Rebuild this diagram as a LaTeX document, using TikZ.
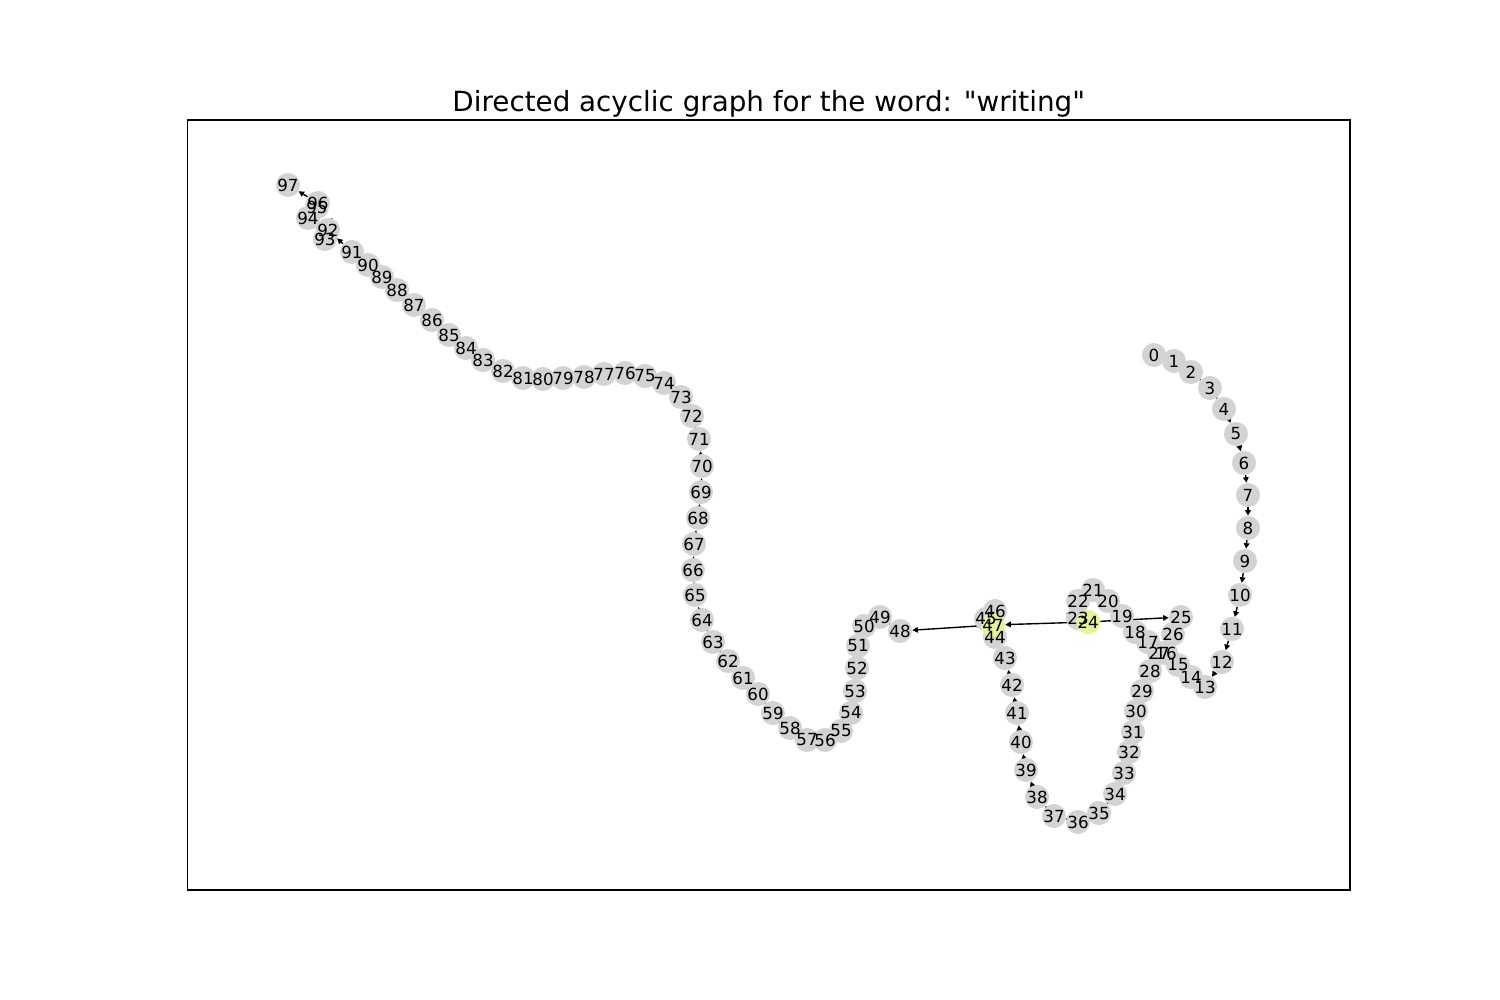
\documentclass[tikz,border=0pt]{standalone}
\usepackage{fontspec}
\setmainfont{DejaVu Sans}[Ligatures=TeXOff]
\usetikzlibrary{arrows.meta}
\pgfdeclarelayer{bg}
\pgfsetlayers{bg,main}
\definecolor{ngray}{RGB}{211,211,211}
\definecolor{nhl}{RGB}{228,243,150}
\begin{document}
\begin{tikzpicture}[x=0.72pt,y=-0.72pt,
  gnode/.style={circle,minimum size=17.32pt,inner sep=0pt,draw=none},
  lbl/.style={font=\fontsize{12}{14}\selectfont,inner sep=0pt},
  conn/.style={-{Triangle[length=4pt,width=4pt]},line width=1pt,black}]
\useasboundingbox (0,0) rectangle (1500,1000);
\draw[line width=0.8pt] (187.5,120) rectangle (1350,890);
\node[font=\fontsize{20}{24}\selectfont,anchor=base,inner sep=0pt] (title) at (768.75,111.7) {Directed acyclic graph for the word: "writing"};
\foreach \n/\x/\y/\c in {
0/1154/355/ngray,1/1174/361/ngray,2/1191/372/ngray,3/1210/388/ngray,4/1224/409/ngray,
5/1236/434/ngray,6/1244/463/ngray,7/1248/495/ngray,8/1248/528/ngray,9/1245/561/ngray,
10/1240/595/ngray,11/1232/629/ngray,12/1222/662/ngray,13/1205/687/ngray,14/1191/677/ngray,
15/1178/665/ngray,16/1166/653/ngray,17/1148/642/ngray,18/1135/632/ngray,19/1122/616/ngray,
20/1108/601/ngray,21/1093/590/ngray,22/1078/601/ngray,23/1078/618/ngray,24/1088/622/nhl,
25/1181/617/ngray,26/1173/634/ngray,27/1159/653/ngray,28/1150/671/ngray,29/1142/691/ngray,
30/1136/711/ngray,31/1133/732/ngray,32/1129/752/ngray,33/1124/773/ngray,34/1115/794/ngray,
35/1099/813/ngray,36/1078/822/ngray,37/1054/816/ngray,38/1037/797/ngray,39/1026/770/ngray,
40/1021/742/ngray,41/1017/713/ngray,42/1012/685/ngray,43/1005/658/ngray,44/995/637/ngray,
45/986/619/ngray,46/995/611/ngray,47/993/625/nhl,48/900/631/ngray,49/880/617/ngray,
50/864/626/ngray,51/858/646/ngray,52/857/668/ngray,53/855/691/ngray,54/851/713/ngray,
55/841/731/ngray,56/825/740/ngray,57/807/740/ngray,58/790/728/ngray,59/773/713/ngray,
60/758/694/ngray,61/743/678/ngray,62/728/661/ngray,63/713/642/ngray,64/702/620/ngray,
65/695/595/ngray,66/693/570/ngray,67/694/544/ngray,68/698/518/ngray,69/701/492/ngray,
70/702/466/ngray,71/699/439/ngray,72/692/416/ngray,73/681/397/ngray,74/664/383/ngray,
75/645/376/ngray,76/625/373/ngray,77/604/374/ngray,78/584/377/ngray,79/563/378/ngray,
80/543/379/ngray,81/523/378/ngray,82/503/371/ngray,83/483/360/ngray,84/466/348/ngray,
85/449/335/ngray,86/432/320/ngray,87/414/305/ngray,88/397/290/ngray,89/382/277/ngray,
90/368/265/ngray,91/352/252/ngray,92/328/230/ngray,93/325/239/ngray,94/308/218/ngray,
95/317/207/ngray,96/318/203/ngray,97/288/185/ngray}
{
  \node[gnode,fill=\c] (n\n) at (\x,\y) {};
}
\begin{pgfonlayer}{bg}
\foreach \i [evaluate=\i as \j using int(\i+1)] in {0,...,96}
  \draw[conn] (n\i) -- (n\j);
\draw[conn] (n24) -- (n47);
\end{pgfonlayer}
\foreach \n in {0,...,97}
  \node[lbl] (l\n) at (n\n.center) {\n};
\end{tikzpicture}
\end{document}
